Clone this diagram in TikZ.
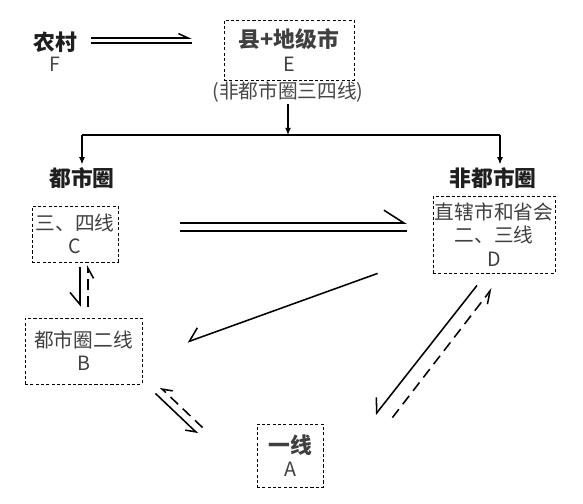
\documentclass[tikz,border=0pt]{standalone}
\usepackage{fontspec}
\setmainfont{Noto Sans CJK SC}
\usetikzlibrary{arrows.meta}

\begin{document}
\begin{tikzpicture}[
    font=\fontsize{14}{16.5}\selectfont,
    box/.style={draw, dash pattern=on 2.2pt off 1.6pt, line width=0.6pt, align=center,
                text=black!75, inner sep=1pt},
    head/.style={font=\fontsize{15.5}{18}\selectfont\bfseries, text=black!88, inner sep=1pt},
    tag/.style={text=black!72, inner sep=1pt},
    arr/.style={line width=0.9pt, -{Latex[length=1.8mm, width=1.5mm]}},
    harp/.style={line width=1.1pt, -{Straight Barb[right, length=3mm, width=5mm]}},
    back/.style={harp, dash pattern=on 7.5pt off 4.5pt},
    dbl/.style={line width=1.1pt, -{Straight Barb[left, length=5mm, width=6.4mm]}},
  ]
  \path[use as bounding box, fill=white] (0,0) rectangle (14.575,12.575);
  % ── 上层：农村 → 县+地级市 ──
  \node[head] (rural) at (1.375,11.525) {农村};
  \node[tag] (ruralF) at (1.375,10.975) {F};
  \node[box, minimum width=3.25cm, minimum height=1.5cm] (Ebox) at (7.225,11.325)
    {{\fontsize{15.5}{16.5}\selectfont\bfseries 县+地级市}\\E};
  \node[tag] (note) at (7.2,10.275) {(非都市圈三四线)};
  \draw[dbl, -{Straight Barb[left, length=2.4mm, width=2.2mm]}, shorten <=0.325cm, shorten >=0.8cm]
    ([yshift=0.1cm]rural.east) -- ([yshift=0.1cm]rural.east -| Ebox.west);
  \draw[line width=1.1pt, shorten <=0.325cm, shorten >=0.8cm]
    ([yshift=-0.03cm]rural.east) -- ([yshift=-0.03cm]rural.east -| Ebox.west);
  % ── 分叉 ──
  \coordinate (split) at (7.2,9.2);
  \coordinate (lsplit) at (2.05,9.2);
  \coordinate (rsplit) at (12.5,9.2);
  \node[head] (metro) at (2.05,8.125) {都市圈};
  \node[head] (nonmetro) at (12.325,8.125) {非都市圈};
  \draw[arr] (note) -- (split);
  \draw[line width=0.9pt] (lsplit) -- (rsplit);
  \draw[arr, shorten >=1pt] (lsplit) -- (metro);
  \draw[arr, shorten >=1pt] (rsplit) -- (rsplit |- nonmetro.north);
  % ── 城市层级 ──
  \node[box, minimum width=2.15cm, minimum height=1.4cm] (Cbox) at (1.875,6.725) {三、四线\\C};
  \node[box, minimum width=3.05cm, minimum height=1.925cm] (Dbox) at (12.35,6.7125)
    {直辖市和省会\\二、三线\\D};
  \node[box, minimum width=2.925cm, minimum height=1.65cm] (Bbox) at (2.0875,3.8) {都市圈二线\\B};
  \node[box, minimum width=1.65cm, minimum height=1.575cm] (Abox) at (7.25,1.1875)
    {{\fontsize{15.5}{16.5}\selectfont\bfseries 一线}\\A};
  % C ⇀ D
  \draw[dbl, shorten <=1.55cm, shorten >=0.65cm]
    ([yshift=0.275cm]Cbox.east) -- ([yshift=0.275cm]Cbox.east -| Dbox.west);
  \draw[line width=1.1pt, shorten <=1.55cm, shorten >=0.65cm]
    ([yshift=0.075cm]Cbox.east) -- ([yshift=0.075cm]Cbox.east -| Dbox.west);
  % D → B
  \draw[harp] ([xshift=-1.375cm]Dbox.south west) -- ([xshift=1.125cm, yshift=0.225cm]Bbox.east);
  % C ⇄ B
  \draw[harp, shorten <=0.125cm, shorten >=0.275cm]
    ([xshift=0.125cm]Cbox.south) -- ([xshift=0.125cm]Cbox.south |- Bbox.north);
  \draw[back, -{Straight Barb[right, length=2.5mm, width=2.8mm]}, shorten <=0.275cm, shorten >=0.075cm]
    ([xshift=0.325cm]Cbox.south |- Bbox.north) -- ([xshift=0.325cm]Cbox.south);
  % B ⇄ A
  \draw[harp, -{Straight Barb[right, length=2.2mm, width=3mm]}]
    ([xshift=0.325cm, yshift=-0.225cm]Bbox.south east) -- ([xshift=-1.475cm, yshift=-0.25cm]Abox.north west);
  \draw[back, -{Straight Barb[right, length=2.2mm, width=3mm]}]
    ([xshift=-1.35cm, yshift=-0.1cm]Abox.north west) -- ([xshift=0.45cm, yshift=-0.075cm]Bbox.south east);
  % D ⇄ A
  \draw[harp] ([xshift=-0.425cm, yshift=-0.3cm]Dbox.south) -- ([xshift=1.3cm, yshift=0.225cm]Abox.north east);
  \draw[back, -{Straight Barb[right, length=3mm, width=3mm]}]
    ([xshift=1.725cm, yshift=0.15cm]Abox.north east) -- ([xshift=-0.05cm, yshift=-0.375cm]Dbox.south);
\end{tikzpicture}
\end{document}
